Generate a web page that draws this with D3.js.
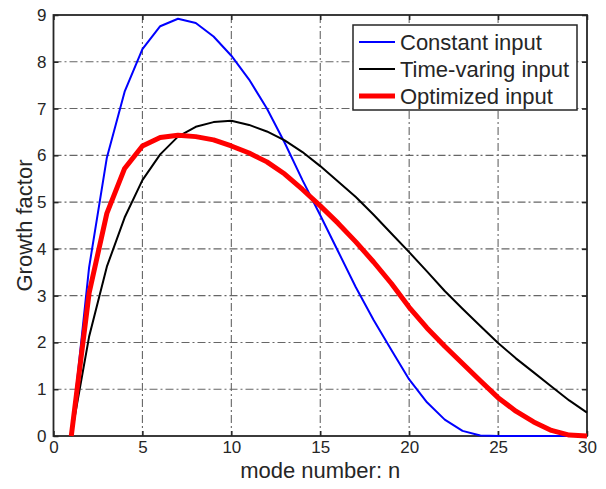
<!DOCTYPE html>
<html>
<head>
<meta charset="utf-8">
<script src="https://cdn.jsdelivr.net/npm/d3@7"></script>
<style>
  body { margin: 0; background: #fff; }
  text { font-family: "Liberation Sans", Arial, sans-serif; fill: #262626; }
  .grid line { stroke: #666; stroke-width: 1.1; stroke-dasharray: 8,3,2,3; }
</style>
</head>
<body>
<svg width="606" height="489"></svg>
<script>
// mode numbers 1..30
var modes = d3.range(1, 31);

var constantInput = [0, 3.6, 5.95, 7.36, 8.27, 8.76, 8.92, 8.83, 8.54, 8.13,
                     7.62, 7.0, 6.27, 5.47, 4.72, 3.95, 3.18, 2.48, 1.84, 1.21,
                     0.72, 0.35, 0.11, 0.01, 0, 0, 0, 0, 0, 0];

var timeVaryingInput = [0, 2.12, 3.62, 4.67, 5.47, 6.02, 6.4, 6.61, 6.71, 6.74,
                        6.65, 6.51, 6.32, 6.07, 5.77, 5.44, 5.11, 4.73, 4.33, 3.93,
                        3.52, 3.1, 2.72, 2.35, 1.99, 1.66, 1.36, 1.06, 0.76, 0.5];

var optimizedInput = [0, 3.05, 4.76, 5.72, 6.2, 6.38, 6.43, 6.4, 6.33, 6.2,
                      6.05, 5.86, 5.6, 5.27, 4.92, 4.55, 4.15, 3.72, 3.26, 2.75,
                      2.31, 1.92, 1.55, 1.18, 0.82, 0.53, 0.3, 0.12, 0.02, 0];

var xTicks = [0, 5, 10, 15, 20, 25, 30];
var yTicks = [0, 1, 2, 3, 4, 5, 6, 7, 8, 9];

var seriesNames  = ["Constant input", "Time-varing input", "Optimized input"];
var seriesValues = [constantInput, timeVaryingInput, optimizedInput];
var seriesColors = ["#0000ff", "#000000", "#ff0000"];
var seriesWidths = [2, 2, 5];

var svg = d3.select("svg");

var plotL = 53.5, plotR = 587, plotT = 15, plotB = 436;

var x = d3.scaleLinear().domain([0, 30]).range([plotL, plotR]);
var y = d3.scaleLinear().domain([0, 9]).range([plotB, plotT]);

//Grid
var grid = svg.append("g").attr("class", "grid");
grid.selectAll(".gx")
    .data(xTicks.filter(function(d){ return d > 0 && d < 30; }))
    .enter().append("line")
      .attr("x1", d => x(d)).attr("x2", d => x(d))
      .attr("y1", plotT).attr("y2", plotB);
grid.selectAll(".gy")
    .data(yTicks.filter(function(d){ return d > 0 && d < 9; }))
    .enter().append("line")
      .attr("y1", d => y(d)).attr("y2", d => y(d))
      .attr("x1", plotL).attr("x2", plotR);

//Axes (ticks inside, box on)
function styleAxis(g){
  g.select(".domain").remove();
  g.selectAll(".tick line").attr("stroke", "#262626").attr("stroke-width", 1.5);
  g.selectAll(".tick text").style("font-size", "17px").attr("fill", "#262626");
}

svg.append("g")
   .attr("transform", "translate(0," + plotB + ")")
   .call(d3.axisBottom(x).tickValues(xTicks).tickSize(-5).tickPadding(5))
   .call(styleAxis);

svg.append("g")
   .attr("transform", "translate(0," + plotT + ")")
   .call(d3.axisTop(x).tickValues(xTicks).tickSize(-5).tickFormat(""))
   .call(styleAxis);

svg.append("g")
   .attr("transform", "translate(" + plotL + ",0)")
   .call(d3.axisLeft(y).tickValues(yTicks).tickSize(-5).tickPadding(7))
   .call(styleAxis);

svg.append("g")
   .attr("transform", "translate(" + plotR + ",0)")
   .call(d3.axisRight(y).tickValues(yTicks).tickSize(-5).tickFormat(""))
   .call(styleAxis);

svg.append("rect")
   .attr("x", plotL).attr("y", plotT)
   .attr("width", plotR - plotL).attr("height", plotB - plotT)
   .attr("fill", "none")
   .attr("stroke", "#262626")
   .attr("stroke-width", 1.8);

//Axis titles
svg.append("text")
   .attr("x", (plotL + plotR) / 2)
   .attr("y", 478)
   .attr("text-anchor", "middle")
   .style("font-size", "22px")
   .text("mode number: n");

svg.append("text")
   .attr("transform", "translate(32," + ((plotT + plotB) / 2) + ") rotate(-90)")
   .attr("text-anchor", "middle")
   .style("font-size", "22px")
   .text("Growth factor");

//Curves
var line = d3.line()
             .x(function(d, i){ return x(modes[i]); })
             .y(function(d){ return y(d); });

svg.selectAll(".curve")
   .data(seriesValues)
   .enter().append("path")
     .attr("class", "curve")
     .attr("d", line)
     .attr("fill", "none")
     .attr("stroke", (d, i) => seriesColors[i])
     .attr("stroke-width", (d, i) => seriesWidths[i])
     .attr("stroke-linejoin", "round");

//Legend
var legend = svg.append("g");
legend.append("rect")
      .attr("x", 353).attr("y", 25)
      .attr("width", 224).attr("height", 85)
      .attr("fill", "#fff")
      .attr("stroke", "#262626")
      .attr("stroke-width", 1.5);

var rows = legend.selectAll(".row")
                 .data(seriesNames)
                 .enter().append("g")
                   .attr("class", "row")
                   .attr("transform", (d, i) => "translate(0," + (42 + 27 * i) + ")");

rows.append("line")
    .attr("x1", 359).attr("x2", 395)
    .attr("stroke", (d, i) => seriesColors[i])
    .attr("stroke-width", (d, i) => seriesWidths[i]);

rows.append("text")
    .attr("x", 400)
    .attr("dy", "0.36em")
    .style("font-size", "22px")
    .attr("fill", "#000")
    .text(d => d);
</script>
</body>
</html>
